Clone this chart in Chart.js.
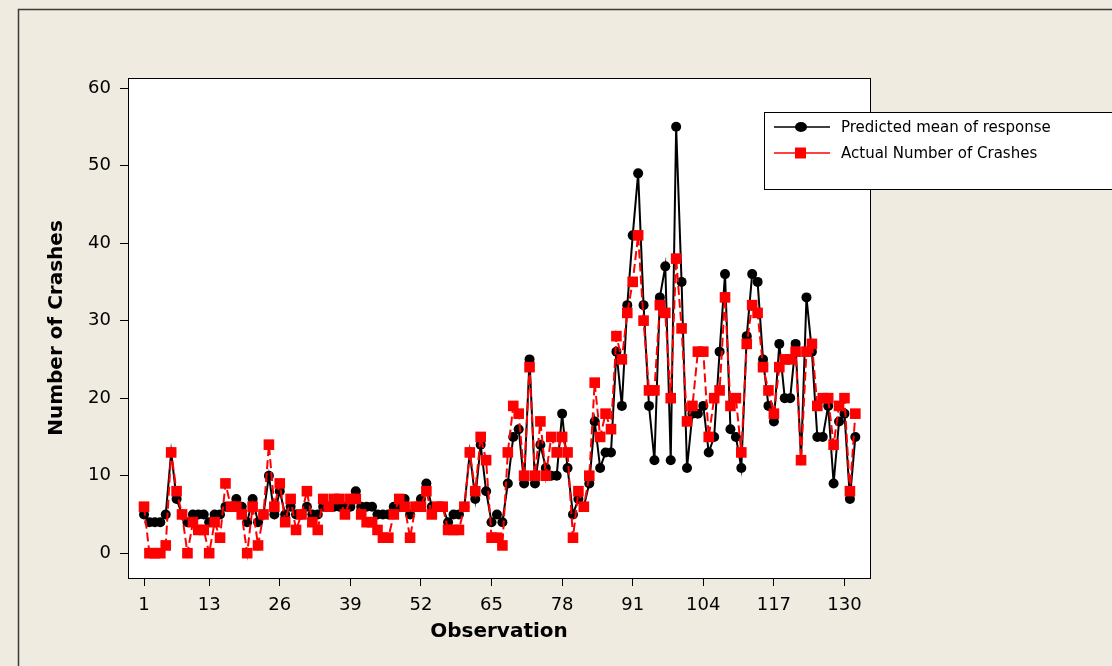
<!DOCTYPE html>
<html>
<head>
<meta charset="utf-8">
<script src="https://cdn.jsdelivr.net/npm/chart.js@4/dist/chart.umd.min.js"></script>
<style>
  body { margin: 0; background: #efebe0; }
  #wrap { width: 1112px; height: 666px; position: relative; }
</style>
</head>
<body>
<div id="wrap"><canvas id="myChart" width="1112" height="666"></canvas></div>
<script>
'use strict';
// observation numbers 1..132
const obs = Array.from({ length: 132 }, (_, i) => i + 1);
const xTicks = [1, 13, 26, 39, 52, 65, 78, 91, 104, 117, 130];
const yTicks = [0, 10, 20, 30, 40, 50, 60];

const predicted = [
    5, 4, 4, 4, 5, 13, 7, 5, 4, 5, 5, 5, 4, 5, 5, 6, 6, 7, 6, 4,
    7, 4, 5, 10, 5, 8, 5, 6, 5, 5, 6, 5, 5, 6, 6, 6, 6, 6, 6, 8,
    6, 6, 6, 5, 5, 5, 6, 6, 7, 5, 6, 7, 9, 6, 6, 6, 4, 5, 5, 6,
    13, 7, 14, 8, 4, 5, 4, 9, 15, 16, 9, 25, 9, 14, 11, 10, 10, 18, 11, 5,
    7, 6, 9, 17, 11, 13, 13, 26, 19, 32, 41, 49, 32, 19, 12, 33, 37, 12, 55, 35,
    11, 18, 18, 19, 13, 15, 26, 36, 16, 15, 11, 28, 36, 35, 25, 19, 17, 27, 20, 20,
    27, 12, 33, 26, 15, 15, 19, 9, 17, 18, 7, 15
];
const actual = [
    6, 0, 0, 0, 1, 13, 8, 5, 0, 4, 3, 3, 0, 4, 2, 9, 6, 6, 5, 0,
    6, 1, 5, 14, 6, 9, 4, 7, 3, 5, 8, 4, 3, 7, 6, 7, 7, 5, 7, 7,
    5, 4, 4, 3, 2, 2, 5, 7, 6, 2, 6, 6, 8, 5, 6, 6, 3, 3, 3, 6,
    13, 8, 15, 12, 2, 2, 1, 13, 19, 18, 10, 24, 10, 17, 10, 15, 13, 15, 13, 2,
    8, 6, 10, 22, 15, 18, 16, 28, 25, 31, 35, 41, 30, 21, 21, 32, 31, 20, 38, 29,
    17, 19, 26, 26, 15, 20, 21, 33, 19, 20, 13, 27, 32, 31, 24, 21, 18, 24, 25, 25,
    26, 12, 26, 27, 19, 20, 20, 14, 19, 20, 8, 18
];

const FONT = 'DejaVu Sans';

// white plot area, frame, outer border and legend
const decor = {
    id: 'decor',
    beforeDraw(chart) {
        const { ctx, chartArea: a } = chart;
        ctx.save();
        ctx.fillStyle = '#ffffff';
        ctx.fillRect(a.left, a.top, a.right - a.left, a.bottom - a.top);
        ctx.strokeStyle = '#3a3a3a';
        ctx.lineWidth = 1.5;
        ctx.beginPath();
        ctx.moveTo(18.5, 666);
        ctx.lineTo(18.5, 9.5);
        ctx.lineTo(1112, 9.5);
        ctx.stroke();
        ctx.restore();
    },
    afterDraw(chart) {
        const { ctx, chartArea: a } = chart;
        ctx.save();
        ctx.strokeStyle = '#000';
        ctx.lineWidth = 1;
        ctx.strokeRect(a.left + 0.5, a.top + 0.5, a.right - a.left, a.bottom - a.top);

        // legend box
        ctx.fillStyle = '#ffffff';
        ctx.fillRect(764, 112, 360, 77);
        ctx.strokeRect(764.5, 112.5, 360, 77);
        const items = chart.data.datasets.slice().reverse();
        items.forEach((ds, i) => {
            const y = 127 + i * 26;
            ctx.strokeStyle = ds.borderColor;
            ctx.lineWidth = 1.5;
            ctx.setLineDash([]);
            ctx.beginPath();
            ctx.moveTo(774, y);
            ctx.lineTo(830, y);
            ctx.stroke();
            ctx.fillStyle = ds.pointBackgroundColor;
            ctx.beginPath();
            if (ds.pointStyle === 'rect') {
                ctx.rect(795, y - 5.5, 11, 11);
            } else {
                ctx.ellipse(801, y, 6, 5, 0, 0, Math.PI * 2);
            }
            ctx.fill();
            ctx.fillStyle = '#000';
            ctx.font = '15px "' + FONT + '"';
            ctx.textBaseline = 'middle';
            ctx.fillText(ds.label, 841, y + 1);
        });
        ctx.restore();
    }
};

const config = {
    type: 'line',
    data: {
        datasets: [
            {
                label: 'Actual Number of Crashes',
                data: actual.map((v, i) => ({ x: obs[i], y: v })),
                borderColor: '#ff0000',
                borderWidth: 2,
                borderDash: [9, 4],
                pointStyle: 'rect',
                pointRadius: 7.5,
                pointBackgroundColor: '#ff0000',
                pointBorderWidth: 0,
                order: 1,
            },
            {
                label: 'Predicted mean of response',
                data: predicted.map((v, i) => ({ x: obs[i], y: v })),
                borderColor: '#000000',
                borderWidth: 2,
                pointStyle: 'circle',
                pointRadius: 5,
                pointBackgroundColor: '#000000',
                pointBorderWidth: 0,
                order: 2,
            },
        ],
    },
    options: {
        responsive: false,
        animation: false,
        layout: { padding: { left: 18, right: 242, top: 78, bottom: 0 } },
        plugins: { legend: { display: false }, tooltip: { enabled: false } },
        elements: { line: { tension: 0 } },
        scales: {
            x: {
                type: 'linear',
                min: -1.95,
                max: 134.7,
                afterBuildTicks: (s) => { s.ticks = xTicks.map((v) => ({ value: v })); },
                afterFit: (s) => { s.height = 88; },
                border: { display: false },
                grid: { drawOnChartArea: false, drawTicks: true, tickLength: 8, color: '#000' },
                ticks: {
                    color: '#000', padding: 9, maxRotation: 0, autoSkip: false,
                    font: { family: FONT, size: 18 },
                },
                title: {
                    display: true, text: 'Observation', color: '#000',
                    font: { family: FONT, size: 20, weight: 'bold' },
                    padding: { top: 0, bottom: 22 },
                },
            },
            y: {
                min: -3.2,
                max: 61.3,
                afterBuildTicks: (s) => { s.ticks = yTicks.map((v) => ({ value: v })); },
                afterFit: (s) => { s.width = 110; },
                border: { display: false },
                grid: { drawOnChartArea: false, drawTicks: true, tickLength: 8, color: '#000' },
                ticks: {
                    color: '#000', padding: 9,
                    font: { family: FONT, size: 18 },
                },
                title: {
                    display: true, text: 'Number of Crashes', color: '#000',
                    font: { family: FONT, size: 20, weight: 'bold' },
                    padding: { top: 27, bottom: 0 },
                },
            },
        },
    },
    plugins: [decor],
};

const myChart = new Chart(document.getElementById('myChart'), config);
</script>
</body>
</html>
